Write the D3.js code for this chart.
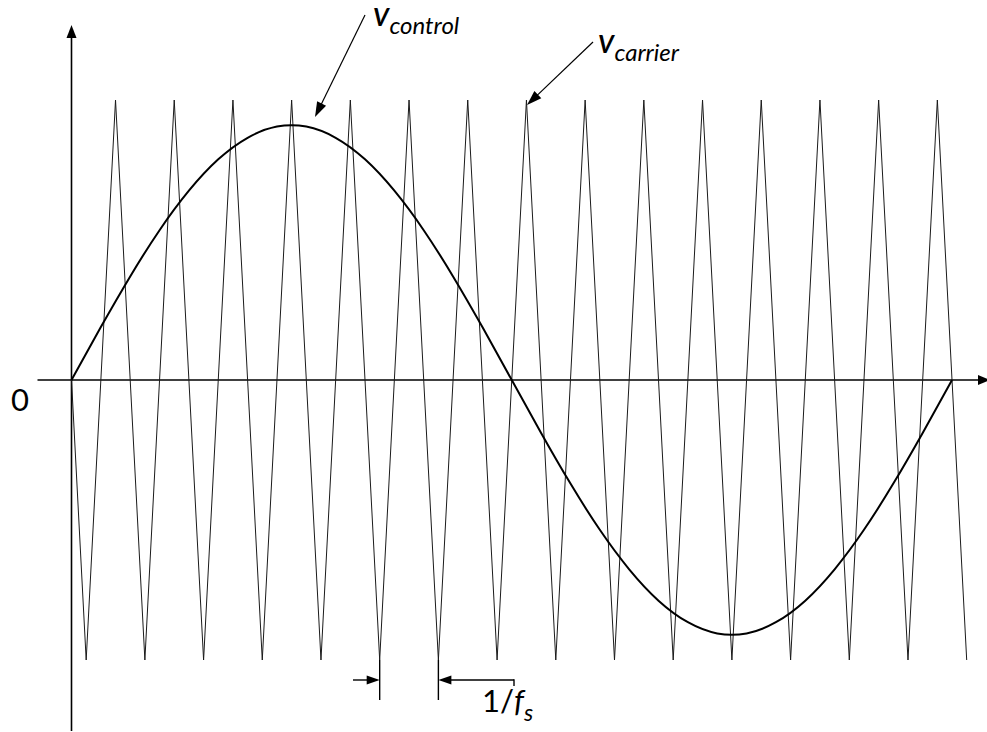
<!DOCTYPE html>
<html><head><meta charset="utf-8">
<script src="https://cdn.jsdelivr.net/npm/d3@7"></script>
<style>html,body{margin:0;padding:0;background:#fff;}svg{display:block;}</style>
</head><body>
<svg id="chart" width="987" height="732"></svg>
<script>
// Carrier (triangle) vertices: time in carrier periods, normalised amplitude
const carrierT = [0, 0.25, 0.75, 1.25, 1.75, 2.25, 2.75, 3.25, 3.75, 4.25, 4.75, 5.25, 5.75, 6.25, 6.75, 7.25, 7.75,
                  8.25, 8.75, 9.25, 9.75, 10.25, 10.75, 11.25, 11.75, 12.25, 12.75, 13.25, 13.75, 14.25, 14.75, 15.25];
const carrierV = [0, -1, 1, -1, 1, -1, 1, -1, 1, -1, 1, -1, 1, -1, 1, -1, 1,
                  -1, 1, -1, 1, -1, 1, -1, 1, -1, 1, -1, 1, -1, 1, -1];
// Control signal samples
const controlT = [0, 0.5, 1, 1.5, 2, 2.5, 3, 3.5, 4, 4.5, 5, 5.5, 6, 6.5, 7, 7.5,
                  8, 8.5, 9, 9.5, 10, 10.5, 11, 11.5, 12, 12.5, 13, 13.5, 14, 14.5, 15];
const controlV = [0, 0.189, 0.370, 0.535, 0.676, 0.788, 0.865, 0.905, 0.905, 0.865, 0.788, 0.676, 0.535, 0.370, 0.189, 0,
                  -0.189, -0.370, -0.535, -0.676, -0.788, -0.865, -0.905, -0.905, -0.865, -0.788, -0.676, -0.535, -0.370, -0.189, 0];
// Labels
const labelZero = "0";
const labelControl = ["v", "control"];
const labelCarrier = ["v", "carrier"];
const labelPeriod = ["1/", "f", "s"];
const periodMarks = [5.25, 6.25];

const svg = d3.select("#chart");
const x = d3.scaleLinear().domain([0, 15.25]).range([71.5, 966.7]);
const y = d3.scaleLinear().domain([-1, 1]).range([660, 100]);

function arrowHead(g, x1, y1, x2, y2, len, hw) {
  const a = Math.atan2(y2 - y1, x2 - x1);
  const bx = x2 - len * Math.cos(a), by = y2 - len * Math.sin(a);
  const px = -Math.sin(a) * hw, py = Math.cos(a) * hw;
  g.append("path")
    .attr("d", `M${x2},${y2}L${bx + px},${by + py}L${bx - px},${by - py}Z`)
    .attr("fill", "#000");
}
function arrow(g, x1, y1, x2, y2, len, hw, sw) {
  const a = Math.atan2(y2 - y1, x2 - x1);
  g.append("line").attr("x1", x1).attr("y1", y1)
    .attr("x2", x2 - (len - 1) * Math.cos(a)).attr("y2", y2 - (len - 1) * Math.sin(a))
    .attr("stroke", "#000").attr("stroke-width", sw);
  arrowHead(g, x1, y1, x2, y2, len, hw);
}

const g = svg.append("g");

// Axes
arrow(g, x(0), 731, x(0), 25, 13, 5, 1.6);
arrow(g, 37.5, y(0), 990, y(0), 12, 5, 1.6);

// Carrier
const carrier = carrierT.map((t, i) => [t, carrierV[i]]);
g.append("path").datum(carrier)
  .attr("d", d3.line().x(d => x(d[0])).y(d => y(d[1])))
  .attr("fill", "none").attr("stroke", "#1a1a1a").attr("stroke-width", 1)
  .attr("stroke-linejoin", "miter").attr("stroke-miterlimit", 2);

// Control
const control = controlT.map((t, i) => [t, controlV[i]]);
g.append("path").datum(control)
  .attr("d", d3.line().curve(d3.curveNatural).x(d => x(d[0])).y(d => y(d[1])))
  .attr("fill", "none").attr("stroke", "#000").attr("stroke-width", 2);

// Period annotation
const x5 = x(periodMarks[0]), x6 = x(periodMarks[1]);
[x5, x6].forEach(xx => {
  g.append("line").attr("x1", xx).attr("x2", xx).attr("y1", y(-1)).attr("y2", 700)
    .attr("stroke", "#000").attr("stroke-width", 1.4);
});
arrow(g, 353, 680, x5, 680, 13, 4.5, 1.4);
arrow(g, 514, 680, x6, 680, 13, 4.5, 1.4);
g.append("line").attr("x1", 514).attr("x2", 514).attr("y1", 679.3).attr("y2", 686)
  .attr("stroke", "#000").attr("stroke-width", 1.4);

// Label arrows
arrow(g, 365, 15, 315, 117, 15, 5, 1.2);
arrow(g, 593, 42, 527, 105, 15, 5, 1.2);

const font = "Lato, 'Open Sans', sans-serif";
// zero label
g.append("text").attr("x", 11).attr("y", 411).attr("font-family", font)
  .attr("font-size", 31).attr("fill", "#000").text(labelZero);

function vlabel(xx, yy, parts) {
  const t = g.append("text").attr("x", xx).attr("y", yy).attr("font-family", font)
    .attr("font-style", "italic").attr("fill", "#000");
  t.append("tspan").attr("font-size", 34).attr("font-weight", 500).text(parts[0]);
  t.append("tspan").attr("font-size", 24).attr("dy", 8).text(parts[1]);
}
vlabel(373, 26, labelControl);
vlabel(598, 53, labelCarrier);

// 1/fs label
const pt = g.append("text").attr("x", 482).attr("y", 712).attr("font-family", font)
  .attr("fill", "#000");
pt.append("tspan").attr("font-size", 31).text(labelPeriod[0]);
pt.append("tspan").attr("font-size", 31).attr("font-style", "italic").text(labelPeriod[1]);
pt.append("tspan").attr("font-size", 23).attr("font-style", "italic").attr("dy", 9).text(labelPeriod[2]);
</script>
</body></html>
